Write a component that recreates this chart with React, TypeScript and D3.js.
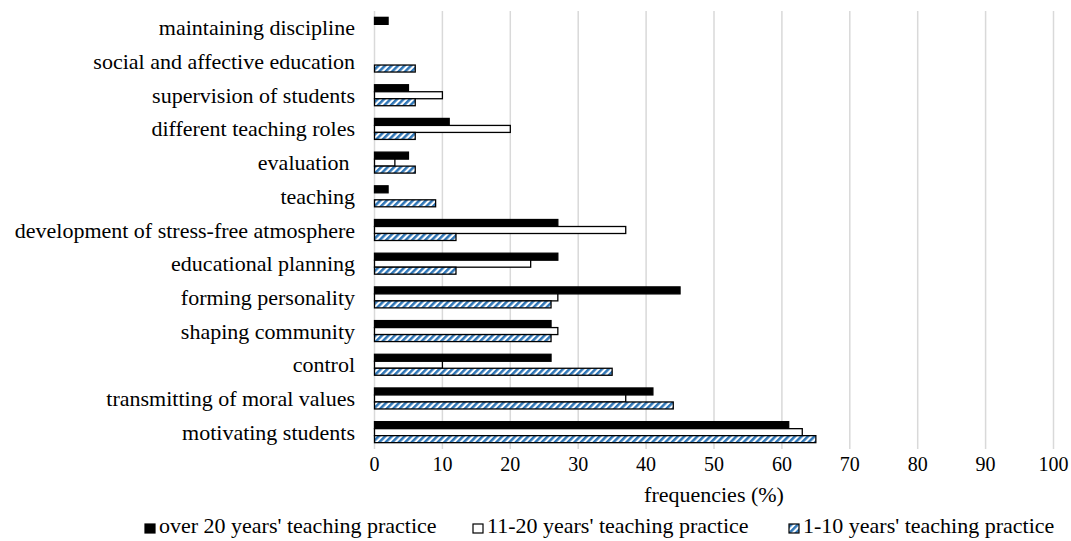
import * as d3 from 'd3'

const categories = [
	'maintaining discipline',
	'social and affective education',
	'supervision of students',
	'different teaching roles',
	'evaluation ',
	'teaching',
	'development of stress-free atmosphere',
	'educational planning',
	'forming personality',
	'shaping community',
	'control',
	'transmitting of moral values',
	'motivating students',
]

const over20 = [2, 0, 5, 11, 5, 2, 27, 27, 45, 26, 26, 41, 61]
const mid = [0, 0, 10, 20, 3, 0, 37, 23, 27, 27, 10, 37, 63]
const junior = [0, 6, 6, 6, 6, 9, 12, 12, 26, 26, 35, 44, 65]

const seriesNames = [
	"over 20 years' teaching practice",
	"11-20 years' teaching practice",
	"1-10 years' teaching practice",
]

const xTicks = [0, 10, 20, 30, 40, 50, 60, 70, 80, 90, 100]

const width = 1071
const height = 541
const marginLeft = 374.5
const marginRight = 17.5
const marginTop = 11
const plotBottom = 449
const font = 'Liberation Serif'
// позиции элементов легенды
const legendX = [145, 473, 789]

const App = () => {
	const x = d3.scaleLinear().domain([0, 100]).range([marginLeft, width - marginRight])
	const y = d3
		.scaleBand<string>()
		.domain(categories)
		.range([marginTop, plotBottom])
		.paddingInner(0.377)
		.paddingOuter(0.1885)
	const sub = d3.scaleBand<number>().domain([0, 1, 2]).range([0, y.bandwidth()])

	const series = [over20, mid, junior]
	const fills = ['#000', '#fff', 'url(#hatch)']

	return (
		<svg width={width} height={height} style={{ display: 'block', position: 'absolute', left: 0, top: 0 }}>
			<defs>
				<pattern id="hatch" patternUnits="userSpaceOnUse" width="4.6" height="4.6" patternTransform="rotate(45)">
					<rect width="4.6" height="4.6" fill="#fff" />
					<rect width="2.5" height="4.6" fill="#2e75b6" />
				</pattern>
			</defs>
			{xTicks.map((t) => (
				<line key={t} x1={x(t)} x2={x(t)} y1={marginTop} y2={plotBottom} stroke="#d9d9d9" strokeWidth={1.5} />
			))}
			{categories.map((c, i) =>
				series.map((s, k) =>
					s[i] > 0 ? (
						<rect
							key={c + k}
							x={x(0)}
							y={(y(c) ?? 0) + (sub(k) ?? 0)}
							width={x(s[i]) - x(0)}
							height={sub.bandwidth()}
							fill={fills[k]}
							stroke="#000"
							strokeWidth={1.3}
						/>
					) : null
				)
			)}
			{categories.map((c) => (
				<text
					key={c}
					x={355}
					y={(y(c) ?? 0) + y.bandwidth() / 2}
					textAnchor="end"
					dominantBaseline="central"
					style={{ fontFamily: font, fontSize: 22, whiteSpace: 'pre' }}
					fill="#000"
				>
					{c}
				</text>
			))}
			{xTicks.map((t) => (
				<text key={t} x={x(t)} y={471} textAnchor="middle" style={{ fontFamily: font, fontSize: 20 }} fill="#000">
					{t}
				</text>
			))}
			<text x={(x(0) + x(100)) / 2} y={502} textAnchor="middle" style={{ fontFamily: font, fontSize: 22 }} fill="#000">
				frequencies (%)
			</text>
			{seriesNames.map((n, k) => (
				<g key={n}>
					<rect x={legendX[k]} y={524} width={10} height={9} fill={fills[k]} stroke="#000" strokeWidth={1.2} />
					<text x={legendX[k] + 14} y={533} style={{ fontFamily: font, fontSize: 22 }} fill="#000">
						{n}
					</text>
				</g>
			))}
		</svg>
	)
}

export default App
